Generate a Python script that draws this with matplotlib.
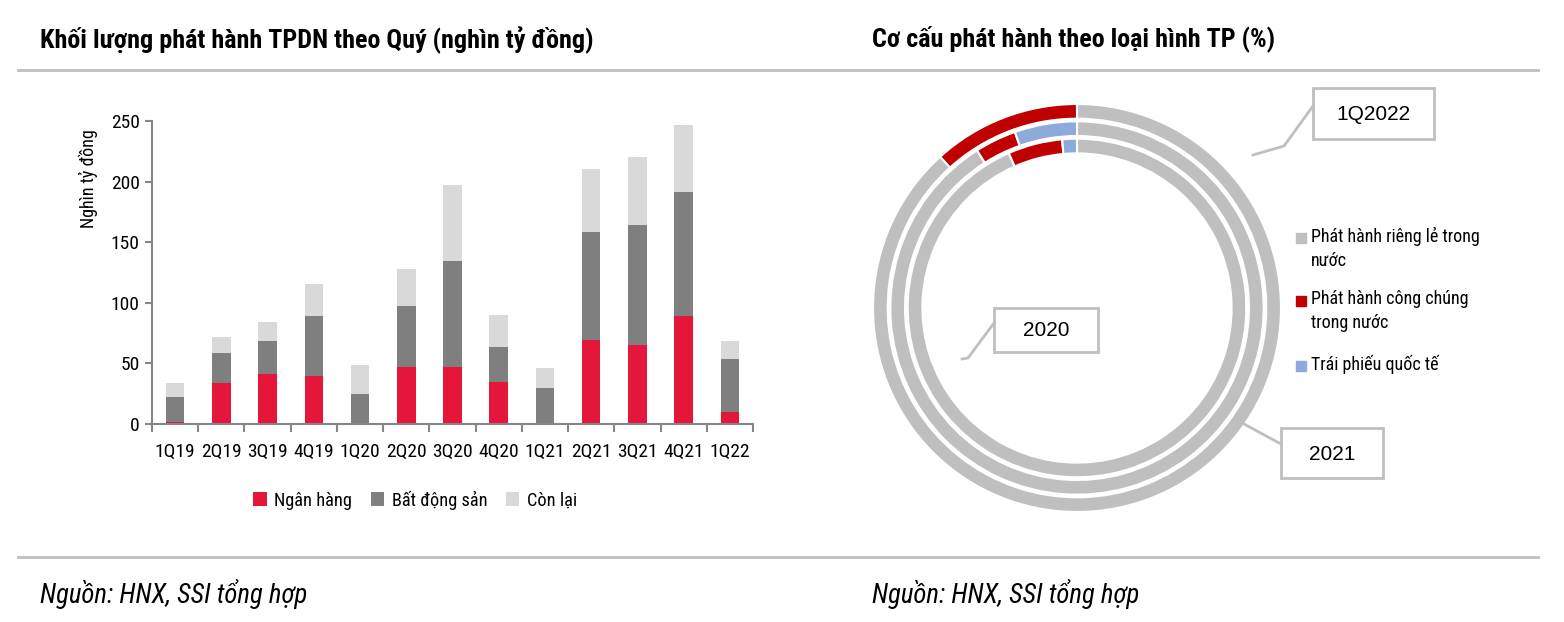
import matplotlib
matplotlib.use("Agg")
import matplotlib.pyplot as plt
from matplotlib.patches import Rectangle
import numpy as np

plt.rcParams['font.family'] = ['Roboto Condensed', 'Liberation Sans', 'DejaVu Sans']

# data: quarterly corporate bond issuance (nghìn tỷ đồng)
quarters = ["1Q19", "2Q19", "3Q19", "4Q19", "1Q20", "2Q20", "3Q20",
            "4Q20", "1Q21", "2Q21", "3Q21", "4Q21", "1Q22"]
ngan_hang = [2, 34, 41.5, 40, 0.5, 47.3, 46.8, 35, 0.5, 69.6, 65.2, 89.4, 9.6]
bat_dong_san = [20.5, 24.6, 27.3, 48.8, 24.3, 50.1, 88, 28.5, 29.5, 89.1, 98.7, 102, 44]
con_lai = [11.5, 13.2, 15.2, 26.7, 23.9, 30.2, 62.1, 26.4, 16, 51.3, 56.1, 55.6, 15.2]
bar_legend = ["Ngân hàng", "Bất động sản", "Còn lại"]

# data: issuance structure by bond type (%)
ring_names = ["1Q2022", "2021", "2020"]          # outer -> inner
bond_types = ["Phát hành riêng lẻ trong\nnước", "Phát hành công chúng\ntrong nước",
              "Trái phiếu quốc tế"]
rieng_le = [88.3, 91.0, 93.4]
cong_chung = [11.7, 3.6, 5.2]
quoc_te = [0.0, 5.4, 1.4]

W, H = 1564, 622
fig = plt.figure(figsize=(W / 100, H / 100), dpi=100)

def fx(px):
    return px / W

def fy(py):
    return 1 - py / H

# ---- bar chart ----
ax = fig.add_axes([fx(152), fy(424), fx(601), 303 / H])
x = np.arange(len(quarters))
c_red, c_gray, c_light = "#e4173a", "#7f7f7f", "#d9d9d9"
b1 = ax.bar(x, ngan_hang, width=0.4, color=c_red, label=bar_legend[0])
b2 = ax.bar(x, bat_dong_san, width=0.4, bottom=ngan_hang, color=c_gray, label=bar_legend[1])
bottom2 = np.array(ngan_hang) + np.array(bat_dong_san)
b3 = ax.bar(x, con_lai, width=0.4, bottom=bottom2, color=c_light, label=bar_legend[2])
ax.set_xlim(-0.5, len(quarters) - 0.5)
ax.set_ylim(0, 250)
ax.set_yticks(range(0, 251, 50))
ax.set_xticks(x)
ax.set_xticklabels(quarters)
ax.set_xticks(np.arange(-0.5, len(quarters), 1), minor=True)
ax.tick_params(axis='x', which='major', length=0, pad=14, labelsize=14)
ax.tick_params(axis='x', which='minor', length=6, width=1.5, color="#868686")
ax.tick_params(axis='y', length=5, width=1.5, color="#868686", labelsize=14, pad=4)
for s in ["top", "right"]:
    ax.spines[s].set_visible(False)
for s in ["left", "bottom"]:
    ax.spines[s].set_color("#868686")
    ax.spines[s].set_linewidth(1.5)
ax.set_ylabel("Nghìn tỷ đồng", fontsize=13)
ax.yaxis.set_label_coords(-0.09, 0.81)

fig.legend(handles=[b1, b2, b3], loc="center", bbox_to_anchor=(fx(415), fy(500)),
           ncol=3, frameon=False, fontsize=13.2, handlelength=0.75, handleheight=0.75,
           handletextpad=0.4, columnspacing=1.0)

# ---- donut chart ----
R = 204
pax = fig.add_axes([fx(1077 - R), fy(308 + R), fx(2 * R), 2 * R / H])
pie_colors = ["#bfbfbf", "#c00000", "#8eaadb"]
radii = [1.0, 0.915, 0.83]
for i in range(3):
    vals = [rieng_le[i], cong_chung[i], quoc_te[i]]
    pax.pie(vals, radius=radii[i], colors=pie_colors, startangle=90, counterclock=False,
            wedgeprops=dict(width=0.072, edgecolor="white", linewidth=1.5))
pax.set_aspect("equal")
pax.set_xlim(-1, 1)
pax.set_ylim(-1, 1)

# ---- overlay for titles, rules, callouts ----
ov = fig.add_axes([0, 0, 1, 1], zorder=5)
ov.set_xlim(0, W)
ov.set_ylim(H, 0)
ov.axis("off")

ov.text(40, 40, "Khối lượng phát hành TPDN theo Quý (nghìn tỷ đồng)", fontsize=18.8,
        fontweight="bold", va="center")
ov.text(872, 40, "Cơ cấu phát hành theo loại hình TP (%)", fontsize=18.8,
        fontweight="bold", va="center")
ov.plot([18, 1538], [69.5, 69.5], color="#bfbfbf", lw=2)
ov.plot([18, 1538], [556.5, 556.5], color="#bfbfbf", lw=2)
ov.text(40, 594, "Nguồn: HNX, SSI tổng hợp", fontsize=19.3, style="italic", va="center")
ov.text(872, 594, "Nguồn: HNX, SSI tổng hợp", fontsize=19.3, style="italic", va="center")

# callout boxes
lc = "#bfbfbf"
boxes = {"1Q2022": (1313, 88, 121, 51), "2020": (994, 308, 104, 44), "2021": (1281, 428, 102, 50)}
for name in ring_names:
    bx, by, bw, bh = boxes[name]
    ov.add_patch(Rectangle((bx, by), bw, bh, fill=True, facecolor="white", edgecolor=lc, lw=2))
    ov.text(bx + bw / 2, by + bh / 2 + 1, name, fontsize=15, ha="center", va="center",
            family=["Liberation Sans", "DejaVu Sans"])
ov.plot([1253, 1284, 1313], [155, 146, 106], color=lc, lw=2)
ov.plot([962, 968, 994], [359, 358, 323], color=lc, lw=2)
ov.plot([1244, 1281], [424, 444], color=lc, lw=2)

# right legend
leg_y = [238, 301, 366]
for name, col, yy in zip(bond_types, pie_colors, leg_y):
    ov.add_patch(Rectangle((1296, yy - 5), 10, 10, color=col))
    ov.text(1311, yy - 11, name, fontsize=13, va="top", linespacing=1.45)

fig.savefig("out.png", dpi=100)
